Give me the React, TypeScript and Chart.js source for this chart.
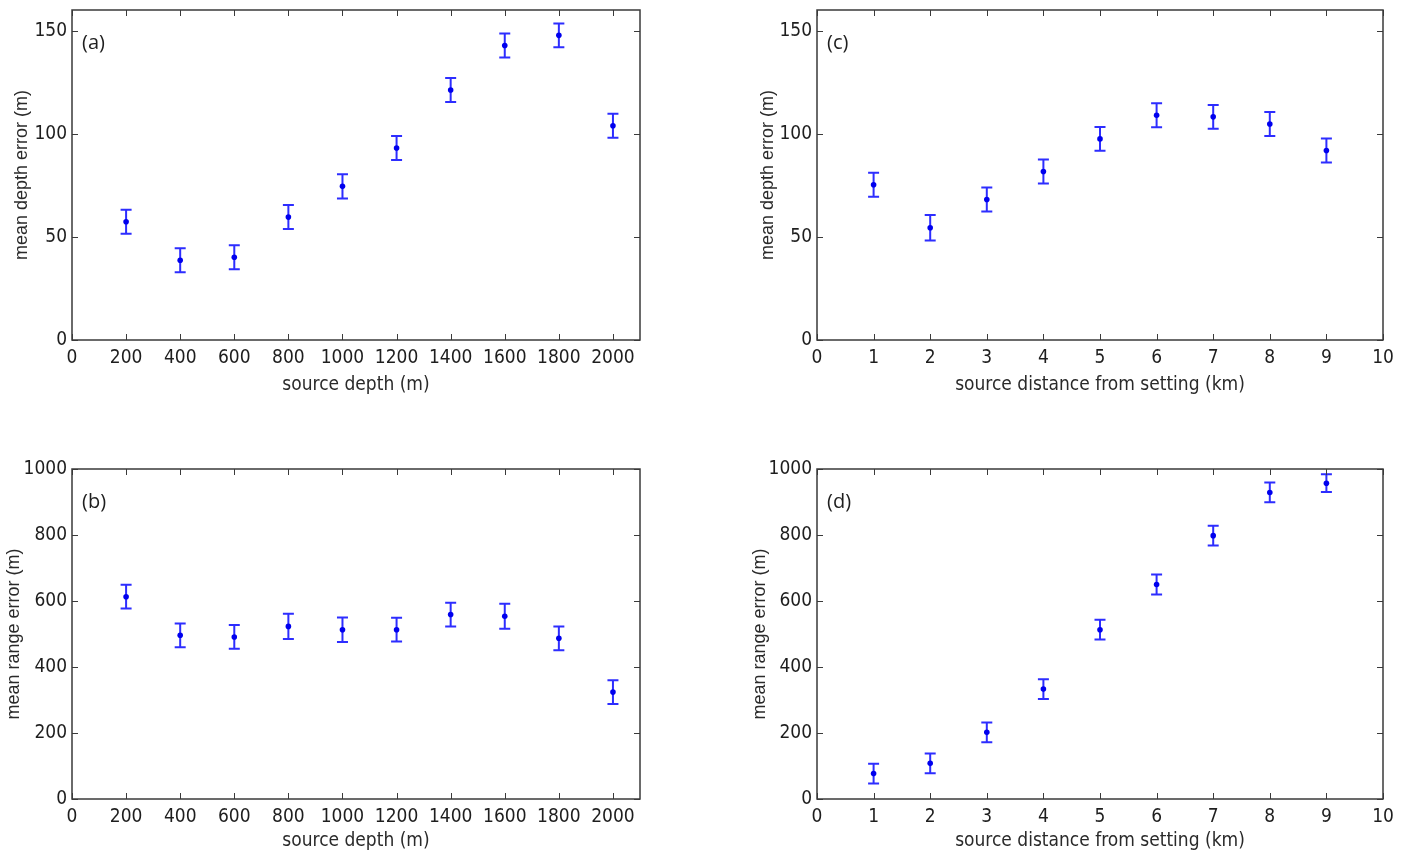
import React, { useEffect, useRef } from "react";
import { Chart, registerables } from "chart.js";

Chart.register(...registerables);

// ---------- data ----------
const sourceDepths = [200, 400, 600, 800, 1000, 1200, 1400, 1600, 1800, 2000];
const sourceDistances = [1, 2, 3, 4, 5, 6, 7, 8, 9];

const depthErrVsDepth = [57.3, 38.7, 40.1, 59.6, 74.5, 93.1, 121.2, 142.8, 147.7, 103.9];
const depthErrVsDepthSd = [5.8, 5.8, 5.8, 5.8, 5.9, 5.8, 5.8, 5.8, 5.8, 5.8];

const rangeErrVsDepth = [613, 496, 491, 523, 513, 513, 559, 554, 487, 324];
const rangeErrVsDepthSd = [36, 36, 36, 38, 37, 36, 36, 38, 36, 36];

const depthErrVsDist = [75.3, 54.4, 68.1, 81.7, 97.5, 109.0, 108.2, 104.7, 91.9];
const depthErrVsDistSd = [5.8, 6.2, 5.8, 5.8, 5.8, 5.8, 5.8, 5.8, 5.8];

const rangeErrVsDist = [77, 108, 202, 333, 513, 650, 798, 929, 957];
const rangeErrVsDistSd = [30, 30, 30, 30, 30, 30, 30, 30, 27];

const depthTicks = [0, 200, 400, 600, 800, 1000, 1200, 1400, 1600, 1800, 2000];
const distTicks = [0, 1, 2, 3, 4, 5, 6, 7, 8, 9, 10];
const depthErrTicks = [0, 50, 100, 150];
const rangeErrTicks = [0, 200, 400, 600, 800, 1000];

// ---------- style ----------
const BAR_COLOR = "rgb(45,45,255)";
const DOT_COLOR = "#0000ee";
const AXIS_COLOR = "#3a3a3a";
const TEXT_COLOR = "#1e1e1e";
const NARROW = "'Liberation Sans Narrow', 'DejaVu Sans Condensed', 'Liberation Sans', Arial, sans-serif";
const SANS = "'Liberation Sans', Arial, sans-serif";

type PanelProps = {
  left: number;
  top: number;
  width: number;
  height: number;
  xs: number[];
  ys: number[];
  errs: number[];
  xMax: number;
  yMax: number;
  xTicks: number[];
  yTicks: number[];
  xTitle: string;
  yTitle: string;
  label: string;
  padTop: number;
  padRight: number;
  yAxisWidth: number;
  xAxisHeight: number;
  xTitlePad: number;
  yTitlePad: number;
};

function makePlugin(errs: number[], label: string, xTicks: number[], yTicks: number[]) {
  return {
    id: "matlabStyle",
    beforeDatasetsDraw(chart: any) {
      const { ctx, scales } = chart;
      const x = scales.x;
      const y = scales.y;
      const data = chart.data.datasets[0].data as { x: number; y: number }[];
      ctx.save();
      ctx.strokeStyle = BAR_COLOR;
      ctx.lineWidth = 2;
      const cap = 5.5;
      data.forEach((p, i) => {
        const px = x.getPixelForValue(p.x);
        const t = y.getPixelForValue(p.y + errs[i]);
        const b = y.getPixelForValue(p.y - errs[i]);
        ctx.beginPath();
        ctx.moveTo(px, t);
        ctx.lineTo(px, b);
        ctx.moveTo(px - cap, t);
        ctx.lineTo(px + cap, t);
        ctx.moveTo(px - cap, b);
        ctx.lineTo(px + cap, b);
        ctx.stroke();
      });
      ctx.restore();
    },
    afterDraw(chart: any) {
      const { ctx, chartArea: a, scales } = chart;
      const x = scales.x;
      const y = scales.y;
      ctx.save();
      ctx.strokeStyle = AXIS_COLOR;
      ctx.lineWidth = 1;
      const tl = 6;
      ctx.beginPath();
      xTicks.forEach((v) => {
        const px = Math.round(x.getPixelForValue(v)) + 0.5;
        ctx.moveTo(px, a.bottom);
        ctx.lineTo(px, a.bottom - tl);
        ctx.moveTo(px, a.top);
        ctx.lineTo(px, a.top + tl);
      });
      yTicks.forEach((v) => {
        const py = Math.round(y.getPixelForValue(v)) + 0.5;
        ctx.moveTo(a.left, py);
        ctx.lineTo(a.left + tl, py);
        ctx.moveTo(a.right, py);
        ctx.lineTo(a.right - tl, py);
      });
      ctx.stroke();
      ctx.lineWidth = 1.5;
      ctx.strokeRect(a.left, a.top, a.right - a.left, a.bottom - a.top);
      ctx.fillStyle = "#1e1e1e";
      ctx.font = "20px 'Open Sans', 'Liberation Sans', sans-serif";
      ctx.textBaseline = "middle";
      ctx.textAlign = "left";
      ctx.fillText(label, a.left + 10, a.top + 33);
      ctx.restore();
    },
  };
}

function Panel(props: PanelProps) {
  const ref = useRef<HTMLCanvasElement | null>(null);
  useEffect(() => {
    if (!ref.current) return;
    const p = props;
    const chart = new Chart(ref.current, {
      type: "scatter",
      data: {
        datasets: [
          {
            data: p.xs.map((xv, i) => ({ x: xv, y: p.ys[i] })),
            backgroundColor: DOT_COLOR,
            borderColor: DOT_COLOR,
            pointRadius: 2.8,
            pointBorderWidth: 0,
            pointHoverRadius: 2.8,
          },
        ],
      },
      options: {
        responsive: false,
        animation: false,
        events: [],
        layout: { padding: { top: p.padTop, right: p.padRight, left: 0, bottom: 0 } },
        plugins: { legend: { display: false }, tooltip: { enabled: false } },
        scales: {
          x: {
            type: "linear",
            min: 0,
            max: p.xMax,
            grid: { display: false, drawTicks: false, tickLength: 0 },
            border: { display: false },
            afterBuildTicks: (s: any) => {
              s.ticks = p.xTicks.map((v) => ({ value: v }));
            },
            afterFit: (s: any) => {
              s.height = p.xAxisHeight;
              s.paddingLeft = 0;
              s.paddingRight = 0;
            },
            ticks: {
              color: TEXT_COLOR,
              padding: 7,
              maxRotation: 0,
              autoSkip: false,
              font: { family: NARROW, size: 19 },
              callback: (v: any) => String(v),
            },
            title: {
              display: true,
              text: p.xTitle,
              color: "#2a2a2a",
              font: { family: NARROW, size: 19 },
              padding: { top: 0, bottom: p.xTitlePad },
            },
          },
          y: {
            type: "linear",
            min: 0,
            max: p.yMax,
            grid: { display: false, drawTicks: false, tickLength: 0 },
            border: { display: false },
            afterBuildTicks: (s: any) => {
              s.ticks = p.yTicks.map((v) => ({ value: v }));
            },
            afterFit: (s: any) => {
              s.width = p.yAxisWidth;
              s.paddingTop = 0;
              s.paddingBottom = 0;
            },
            ticks: {
              color: TEXT_COLOR,
              padding: 5,
              autoSkip: false,
              font: { family: NARROW, size: 19 },
              callback: (v: any) => String(v),
            },
            title: {
              display: true,
              text: p.yTitle,
              color: "#2a2a2a",
              font: { family: SANS, size: 18 },
              padding: { top: p.yTitlePad, bottom: 0 },
            },
          },
        },
      },
      plugins: [makePlugin(p.errs, p.label, p.xTicks, p.yTicks)],
    } as any);
    return () => chart.destroy();
  }, []);
  return (
    <canvas
      ref={ref}
      width={props.width}
      height={props.height}
      style={{
        position: "absolute",
        left: props.left,
        top: props.top,
        width: props.width,
        height: props.height,
        display: "block",
      }}
    />
  );
}

export default function App() {
  return (
    <div
      style={{
        position: "absolute",
        left: 0,
        top: 0,
        width: 1407,
        height: 852,
        overflow: "hidden",
        background: "#fff",
      }}
    >
      <Panel
        left={0}
        top={0}
        width={660}
        height={400}
        xs={sourceDepths}
        ys={depthErrVsDepth}
        errs={depthErrVsDepthSd}
        xMax={2100}
        yMax={160}
        xTicks={depthTicks}
        yTicks={depthErrTicks}
        xTitle="source depth (m)"
        yTitle="mean depth error (m)"
        label="(a)"
        padTop={10}
        padRight={20}
        yAxisWidth={72}
        xAxisHeight={60}
        xTitlePad={4}
        yTitlePad={11}
      />
      <Panel
        left={745}
        top={0}
        width={660}
        height={400}
        xs={sourceDistances}
        ys={depthErrVsDist}
        errs={depthErrVsDistSd}
        xMax={10}
        yMax={160}
        xTicks={distTicks}
        yTicks={depthErrTicks}
        xTitle="source distance from setting (km)"
        yTitle="mean depth error (m)"
        label="(c)"
        padTop={10}
        padRight={22}
        yAxisWidth={72}
        xAxisHeight={60}
        xTitlePad={4}
        yTitlePad={12}
      />
      <Panel
        left={0}
        top={449}
        width={660}
        height={403}
        xs={sourceDepths}
        ys={rangeErrVsDepth}
        errs={rangeErrVsDepthSd}
        xMax={2100}
        yMax={1000}
        xTicks={depthTicks}
        yTicks={rangeErrTicks}
        xTitle="source depth (m)"
        yTitle="mean range error (m)"
        label="(b)"
        padTop={20}
        padRight={20}
        yAxisWidth={72}
        xAxisHeight={53}
        xTitlePad={0}
        yTitlePad={3}
      />
      <Panel
        left={745}
        top={449}
        width={660}
        height={403}
        xs={sourceDistances}
        ys={rangeErrVsDist}
        errs={rangeErrVsDistSd}
        xMax={10}
        yMax={1000}
        xTicks={distTicks}
        yTicks={rangeErrTicks}
        xTitle="source distance from setting (km)"
        yTitle="mean range error (m)"
        label="(d)"
        padTop={20}
        padRight={22}
        yAxisWidth={72}
        xAxisHeight={53}
        xTitlePad={0}
        yTitlePad={4}
      />
    </div>
  );
}
